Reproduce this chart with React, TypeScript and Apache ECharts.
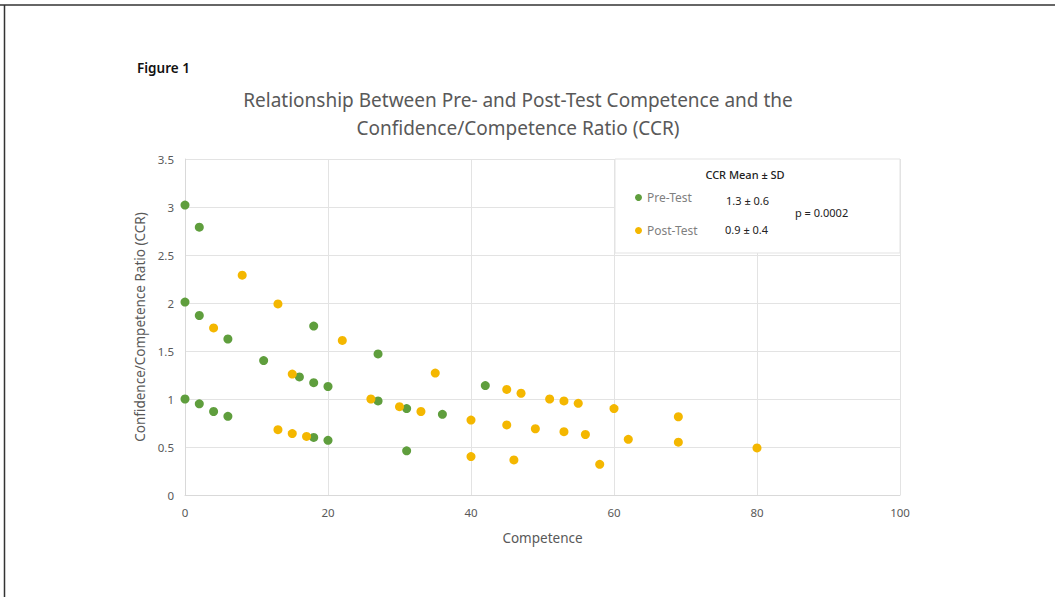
import React, { useEffect, useRef } from "react";
import * as echarts from "echarts";

const preTest: [number, number][] = [
  [0, 3.02], [2, 2.79], [0, 2.01], [2, 1.87], [6, 1.625], [18, 1.76],
  [11, 1.4], [16, 1.23], [18, 1.17], [20, 1.13], [27, 1.47], [0, 1.0],
  [2, 0.95], [4, 0.87], [6, 0.82], [18, 0.6], [20, 0.57], [27, 0.98],
  [31, 0.9], [31, 0.46], [36, 0.84], [42, 1.14],
];

const postTest: [number, number][] = [
  [4, 1.74], [8, 2.29], [13, 1.99], [22, 1.61], [15, 1.26], [13, 0.68],
  [15, 0.64], [17, 0.61], [26, 1.0], [30, 0.92], [33, 0.87], [35, 1.27],
  [40, 0.78], [40, 0.4], [45, 1.1], [45, 0.73], [46, 0.365], [47, 1.06],
  [49, 0.69], [51, 1.0], [53, 0.98], [53, 0.66], [55, 0.955], [56, 0.63],
  [58, 0.32], [60, 0.9], [62, 0.58], [69, 0.815], [69, 0.55], [80, 0.49],
];

const seriesNames = ["Pre-Test", "Post-Test"];
const statsLabels = ["1.3 ± 0.6", "0.9 ± 0.4"];
const statsTitle = "CCR Mean ± SD";
const pValue = "p = 0.0002";
const titleLines = [
  "Relationship Between Pre- and Post-Test Competence and the",
  "Confidence/Competence Ratio (CCR)",
];
const figureLabel = "Figure 1";
const xAxisName = "Competence";
const yAxisName = "Confidence/Competence Ratio (CCR)";

const FONT = "'Noto Sans', 'Open Sans', sans-serif";

export default function App() {
  const ref = useRef<HTMLDivElement>(null);

  useEffect(() => {
    if (!ref.current) return;
    const chart = echarts.init(ref.current, undefined, { renderer: "svg" });
    chart.setOption({
      animation: false,
      backgroundColor: "#ffffff",
      textStyle: { fontFamily: FONT },
      grid: { left: 185, right: 155, top: 159, bottom: 102 },
      xAxis: {
        type: "value",
        min: 0,
        max: 100,
        interval: 20,
        name: xAxisName,
        nameLocation: "middle",
        nameGap: 36,
        nameTextStyle: { color: "#595959", fontSize: 13.5, fontFamily: FONT },
        axisLine: { show: true, lineStyle: { color: "#d9d9d9" } },
        axisTick: { show: false },
        axisLabel: { color: "#595959", fontSize: 11.5, margin: 11, fontFamily: FONT },
        splitLine: { show: true, lineStyle: { color: "#e3e3e3" } },
      },
      yAxis: {
        type: "value",
        min: 0,
        max: 3.5,
        interval: 0.5,
        name: yAxisName,
        nameLocation: "middle",
        nameGap: 37,
        nameTextStyle: { color: "#595959", fontSize: 13.5, fontFamily: FONT },
        axisLine: { show: true, lineStyle: { color: "#d9d9d9" } },
        axisTick: { show: false },
        axisLabel: { color: "#595959", fontSize: 11.5, margin: 11, fontFamily: FONT },
        splitLine: { show: true, lineStyle: { color: "#e3e3e3" } },
      },
      legend: {
        orient: "vertical",
        left: 630,
        top: 186,
        itemWidth: 7,
        itemHeight: 7,
        itemGap: 20,
        icon: "circle",
        data: seriesNames,
        textStyle: { color: "#7f7f7f", fontSize: 12, lineHeight: 13, fontFamily: FONT },
        z: 6,
      },
      graphic: [
        { type: "line", shape: { x1: 0, y1: 5, x2: 1055, y2: 5 }, style: { stroke: "#333333", lineWidth: 1.5 } },
        { type: "line", shape: { x1: 4.5, y1: 5, x2: 4.5, y2: 597 }, style: { stroke: "#333333", lineWidth: 1.5 } },
        {
          type: "text", left: 137, top: 61,
          style: { text: figureLabel, fontSize: 13.5, fontWeight: 600, fill: "#111111", fontFamily: FONT },
        },
        {
          type: "text", x: 518, y: 100,
          style: { text: titleLines[0], fontSize: 19, fill: "#595959", textAlign: "center", textVerticalAlign: "middle", fontFamily: FONT },
        },
        {
          type: "text", x: 518, y: 128,
          style: { text: titleLines[1], fontSize: 19, fill: "#595959", textAlign: "center", textVerticalAlign: "middle", fontFamily: FONT },
        },
        {
          type: "rect", z: 3, shape: { x: 615, y: 159, width: 285, height: 94 },
          style: { fill: "#ffffff", stroke: "#e3e3e3", lineWidth: 1 },
        },
        {
          type: "text", z: 5, x: 745, y: 174,
          style: { text: statsTitle, fontSize: 11, fontWeight: 500, fill: "#222222", textAlign: "center", textVerticalAlign: "middle", fontFamily: FONT },
        },
        {
          type: "text", z: 5, x: 726, y: 200,
          style: { text: statsLabels[0], fontSize: 11, fill: "#222222", textVerticalAlign: "middle", fontFamily: FONT },
        },
        {
          type: "text", z: 5, x: 725, y: 229,
          style: { text: statsLabels[1], fontSize: 11, fill: "#222222", textVerticalAlign: "middle", fontFamily: FONT },
        },
        {
          type: "text", z: 5, x: 795, y: 212,
          style: { text: pValue, fontSize: 11, fill: "#222222", textVerticalAlign: "middle", fontFamily: FONT },
        },
      ],
      series: [
        {
          name: seriesNames[0],
          type: "scatter",
          data: preTest,
          symbolSize: 9,
          itemStyle: { color: "#5f9e3d", opacity: 1 },
          z: 4,
        },
        {
          name: seriesNames[1],
          type: "scatter",
          data: postTest,
          symbolSize: 9,
          itemStyle: { color: "#f4b700", opacity: 1 },
          z: 4,
        },
      ],
    });
    return () => chart.dispose();
  }, []);

  return (
    <div
      ref={ref}
      style={{ position: "fixed", left: 0, top: 0, width: 1055, height: 597 }}
    />
  );
}
